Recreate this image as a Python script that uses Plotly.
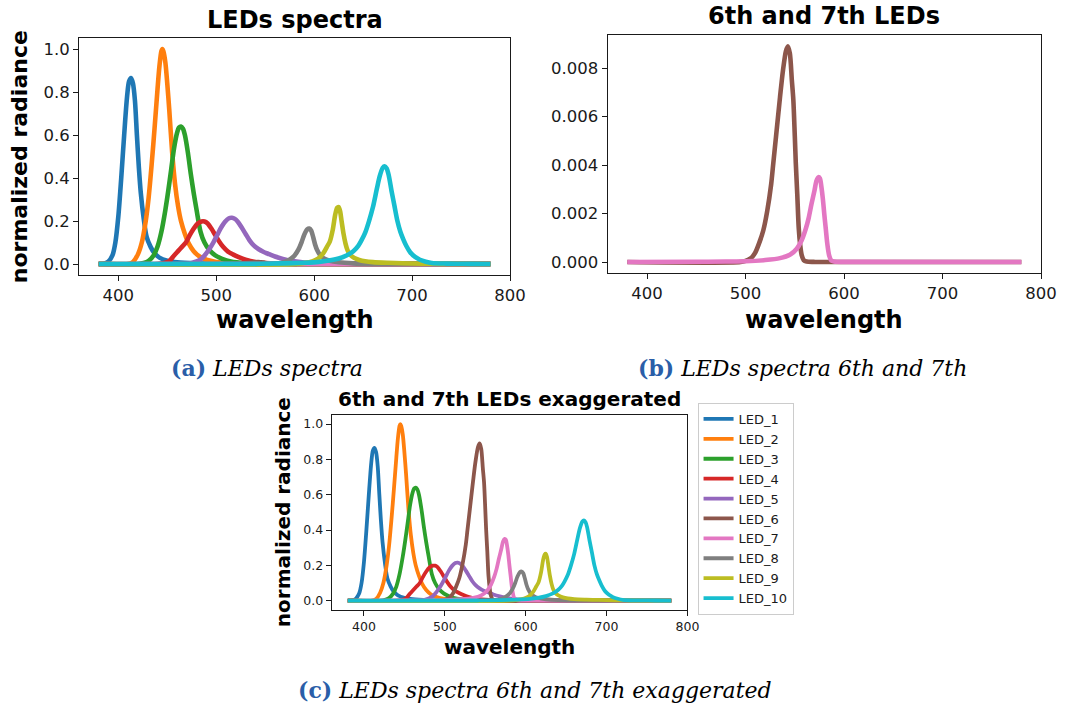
import plotly.graph_objects as go

# ---- spectra: wavelength samples (nm) and normalized radiance per LED ----
led1_nm = [380, 386, 390, 394, 397, 400, 403, 406, 409, 411, 413, 415, 417, 419, 421, 423, 426, 429, 433, 437, 442, 450, 460, 480, 520, 780]
led1_rad = [0, 0.003, 0.012, 0.04, 0.1, 0.22, 0.4, 0.6, 0.78, 0.85, 0.865, 0.84, 0.76, 0.6, 0.45, 0.33, 0.21, 0.125, 0.08, 0.05, 0.03, 0.016, 0.008, 0.003, 0.001, 0]

led2_nm = [380, 410, 415, 420, 424, 428, 431, 434, 437, 440, 442, 444, 445, 446, 448, 450, 452, 455, 458, 461, 464, 468, 472, 477, 483, 490, 500, 515, 540, 780]
led2_rad = [0, 0, 0.01, 0.045, 0.1, 0.2, 0.31, 0.46, 0.63, 0.81, 0.92, 0.99, 1.0, 0.99, 0.94, 0.84, 0.72, 0.52, 0.37, 0.27, 0.2, 0.14, 0.095, 0.06, 0.035, 0.02, 0.01, 0.004, 0.001, 0]

led3_nm = [380, 420, 426, 431, 436, 440, 444, 448, 451, 454, 457, 460, 462, 464, 466, 468, 471, 474, 477, 480, 484, 488, 493, 499, 506, 515, 530, 560, 780]
led3_rad = [0, 0, 0.005, 0.015, 0.04, 0.08, 0.15, 0.25, 0.34, 0.44, 0.54, 0.61, 0.635, 0.64, 0.63, 0.6, 0.52, 0.42, 0.33, 0.25, 0.15, 0.1, 0.065, 0.04, 0.024, 0.012, 0.005, 0.001, 0]

led4_nm = [380, 440, 447, 452, 457, 461, 465, 469, 473, 477, 481, 485, 488, 491, 495, 499, 503, 507, 512, 517, 523, 530, 540, 555, 580, 780]
led4_rad = [0, 0, 0.005, 0.014, 0.04, 0.06, 0.08, 0.1, 0.135, 0.165, 0.188, 0.198, 0.198, 0.19, 0.165, 0.135, 0.105, 0.08, 0.058, 0.045, 0.032, 0.02, 0.01, 0.004, 0.001, 0]

led5_nm = [380, 470, 475, 480, 485, 489, 493, 497, 501, 505, 509, 513, 516, 519, 522, 526, 530, 534, 538, 543, 548, 554, 560, 568, 578, 590, 610, 640, 780]
led5_rad = [0, 0, 0.005, 0.012, 0.025, 0.045, 0.07, 0.1, 0.135, 0.17, 0.197, 0.213, 0.215, 0.21, 0.197, 0.17, 0.14, 0.11, 0.088, 0.07, 0.057, 0.046, 0.035, 0.024, 0.014, 0.007, 0.003, 0.001, 0]

led6_nm = [380, 495, 500, 505, 507, 510, 514, 518, 522, 526, 528, 531, 535, 538, 541, 543, 545, 547, 548.5, 550, 551, 552.5, 554, 555.5, 557, 559, 562, 570, 780]
led6_rad = [0, 0, 0.00005, 0.00015, 0.00022, 0.0004, 0.0008, 0.0013, 0.0021, 0.0032, 0.004, 0.0052, 0.0068, 0.0079, 0.0087, 0.0089, 0.0086, 0.0075, 0.0067, 0.0052, 0.0041, 0.0028, 0.0014, 0.0007, 0.00028, 0.00008, 0.00002, 0.000005, 0]

led7_nm = [380, 450, 480, 500, 520, 535, 545, 552, 557, 561, 564, 567, 570, 572, 574, 575.5, 577, 578.5, 580, 581.5, 583, 585, 587, 590, 600, 780]
led7_rad = [0, 0.00001, 0.00002, 0.00003, 0.00008, 0.00016, 0.0003, 0.00055, 0.0009, 0.00135, 0.0018, 0.0024, 0.00295, 0.00335, 0.0035, 0.00345, 0.0031, 0.0026, 0.00195, 0.00135, 0.00075, 0.00025, 0.00006, 0.00002, 0.000005, 0]

led8_nm = [380, 560, 566, 571, 576, 580, 584, 587, 590, 593, 595, 597, 599, 601, 603, 606, 610, 616, 625, 640, 660, 780]
led8_rad = [0, 0, 0.005, 0.012, 0.024, 0.04, 0.068, 0.1, 0.138, 0.162, 0.165, 0.155, 0.125, 0.09, 0.065, 0.042, 0.026, 0.015, 0.008, 0.003, 0.001, 0]

led9_nm = [380, 580, 590, 598, 604, 609, 613, 616, 619, 621.5, 623.5, 625, 626.5, 628, 630, 632, 634, 637, 641, 646, 652, 660, 675, 690, 710, 730, 780]
led9_rad = [0, 0, 0.005, 0.012, 0.025, 0.048, 0.08, 0.105, 0.16, 0.23, 0.262, 0.265, 0.245, 0.2, 0.14, 0.095, 0.065, 0.042, 0.028, 0.019, 0.013, 0.009, 0.006, 0.004, 0.002, 0.001, 0]

led10_nm = [380, 540, 570, 590, 605, 615, 625, 633, 640, 645, 648, 652, 656, 660, 664, 667, 670, 672, 674, 676, 679, 682, 685, 688, 691, 694, 698, 703, 708, 714, 720, 735, 760, 780]
led10_rad = [0, 0.001, 0.003, 0.006, 0.01, 0.016, 0.026, 0.04, 0.06, 0.085, 0.108, 0.145, 0.2, 0.265, 0.35, 0.41, 0.448, 0.455, 0.445, 0.415, 0.34, 0.27, 0.2, 0.15, 0.115, 0.085, 0.055, 0.033, 0.02, 0.011, 0.005, 0.002, 0.001, 0]

led_names = ["LED_1", "LED_2", "LED_3", "LED_4", "LED_5", "LED_6", "LED_7", "LED_8", "LED_9", "LED_10"]
led_colors = ["#1f77b4", "#ff7f0e", "#2ca02c", "#d62728", "#9467bd",
              "#8c564b", "#e377c2", "#7f7f7f", "#bcbd22", "#17becf"]
exaggerated = ["LED_6", "LED_7"]
exaggeration_factor = 100

x_ticks = [400, 500, 600, 700, 800]
y_ticks = [0.0, 0.2, 0.4, 0.6, 0.8, 1.0]
y_ticks_small = [0.0, 0.002, 0.004, 0.006, 0.008]

spectra = [
    (led1_nm, led1_rad), (led2_nm, led2_rad), (led3_nm, led3_rad), (led4_nm, led4_rad),
    (led5_nm, led5_rad), (led6_nm, led6_rad), (led7_nm, led7_rad), (led8_nm, led8_rad),
    (led9_nm, led9_rad), (led10_nm, led10_rad),
]

W, H = 1084, 711
INK = "#1a1a1a"
SANS = "DejaVu Sans"
SERIF = "DejaVu Serif"
CAPTION_BLUE = "#2a5ea8"

fig = go.Figure()


def add_line(nm, rad, name, color, xa, ya, width, legend=False):
    fig.add_trace(go.Scatter(
        x=nm, y=rad, name=name, mode="lines",
        line=dict(color=color, width=width, shape="spline", smoothing=0.8),
        xaxis=xa, yaxis=ya, showlegend=legend, hoverinfo="x+y+name",
    ))


# (a) all LEDs
for (nm, rad), name, color in zip(spectra, led_names, led_colors):
    add_line(nm, rad, name, color, "x", "y", 4.6)

# (b) only the 6th and 7th LEDs
for (nm, rad), name, color in zip(spectra, led_names, led_colors):
    if name in exaggerated:
        add_line(nm, rad, name, color, "x2", "y2", 4.6)

# (c) all LEDs, 6th and 7th scaled up
for (nm, rad), name, color in zip(spectra, led_names, led_colors):
    vals = [v * exaggeration_factor for v in rad] if name in exaggerated else rad
    add_line(nm, vals, name, color, "x3", "y3", 3.8, legend=True)


def px_x(p):
    return p / W


def px_y(p):
    return 1 - p / H


def axis(domain, rng, ticks, fmt, size, anchor):
    return dict(
        domain=domain, range=rng, tickvals=ticks, tickformat=fmt,
        ticks="outside", ticklen=5, tickwidth=1, tickcolor=INK,
        showline=True, linecolor=INK, linewidth=1, mirror=True,
        showgrid=False, zeroline=False, anchor=anchor,
        tickfont=dict(family=SANS, size=size, color=INK),
    )


fig.update_layout(
    width=W, height=H,
    margin=dict(l=0, r=0, t=0, b=0),
    paper_bgcolor="white", plot_bgcolor="white",
    xaxis=axis([px_x(80.3), px_x(517.7)], [360, 800], x_ticks, "d", 16.5, "y"),
    yaxis=axis([px_y(274.8), px_y(38.3)], [-0.05, 1.05], y_ticks, ".1f", 16.5, "x"),
    xaxis2=axis([px_x(616.7), px_x(1056.7)], [360, 800], x_ticks, "d", 16.5, "y2"),
    yaxis2=axis([px_y(272.8), px_y(35.4)], [-0.000445, 0.009345], y_ticks_small, ".3f", 16.5, "x2"),
    xaxis3=axis([px_x(336.6), px_x(697.7)], [360, 800], x_ticks, "d", 12.5, "y3"),
    yaxis3=axis([px_y(609.5), px_y(415.2)], [-0.05, 1.05], y_ticks, ".1f", 12.5, "x3"),
    legend=dict(
        x=px_x(708), y=px_y(403), xanchor="left", yanchor="top",
        bgcolor="white", bordercolor="#cccccc", borderwidth=1,
        font=dict(family=SANS, size=13, color=INK),
        itemwidth=30, tracegroupgap=0,
    ),
)


def label(text, x, y, size, bold=True, angle=0, family=SANS, color="black"):
    fig.add_annotation(
        text=f"<b>{text}</b>" if bold else text,
        x=px_x(x), y=px_y(y), xref="paper", yref="paper",
        xanchor="center", yanchor="middle", showarrow=False, textangle=angle,
        font=dict(family=family, size=size, color=color),
    )


# panel titles and axis labels
label("LEDs spectra", 299, 20, 24)
label("wavelength", 299, 320, 24)
label("normalized radiance", 20, 156.5, 22, angle=-90)
label("6th and 7th LEDs", 836.7, 16, 24)
label("wavelength", 836.7, 320, 24)
label("6th and 7th LEDs exaggerated", 517, 399, 20)
label("wavelength", 517, 647, 20)
label("normalized radiance", 288, 512.4, 20, angle=-90)


# sub-figure captions
def caption(tag, text, x, y):
    html = (f"<span style='color:{CAPTION_BLUE}'><b>({tag})</b></span> "
            f"<i>{text}</i>")
    label(html, x, y, 22, bold=False, family=SERIF, color="black")


caption("a", "LEDs spectra", 271, 368)
caption("b", "LEDs spectra 6th and 7th", 815, 368)
caption("c", "LEDs spectra 6th and 7th exaggerated", 543, 690)

fig.write_html("out.html")
